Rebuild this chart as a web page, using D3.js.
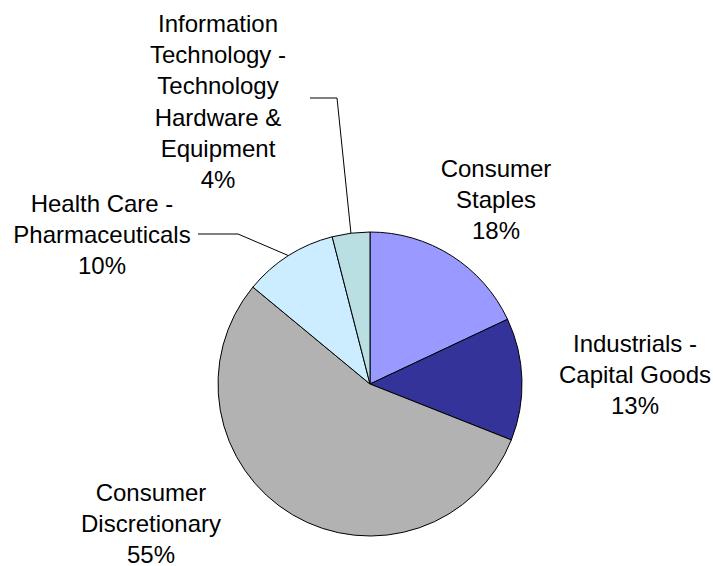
<!DOCTYPE html>
<html>
<head>
<meta charset="utf-8">
<script src="https://cdn.jsdelivr.net/npm/d3@7"></script>
<style>
  html, body { margin: 0; padding: 0; background: #fff; }
  svg { display: block; }
  text { font-family: "Liberation Sans", Arial, sans-serif; font-size: 24px; fill: #000; }
</style>
</head>
<body>
<svg id="chart" width="713" height="566"></svg>
<script>
// Sector weights, in drawing order (clockwise from 12 o'clock)
const sectors = [
  "Consumer Staples",
  "Industrials - Capital Goods",
  "Consumer Discretionary",
  "Health Care - Pharmaceuticals",
  "Information Technology - Technology Hardware & Equipment"
];
const weights = [18, 13, 55, 10, 4];
const labelLines = [
  ["Consumer", "Staples"],
  ["Industrials -", "Capital Goods"],
  ["Consumer", "Discretionary"],
  ["Health Care -", "Pharmaceuticals"],
  ["Information", "Technology -", "Technology", "Hardware &", "Equipment"]
];
const fills = ["#9999FF", "#333399", "#B2B2B2", "#CCECFF", "#BADFE3"];

// Label placement: centre x and first baseline y, plus optional leader bend
const labelLayout = [
  { x: 496, y: 177 },
  { x: 635, y: 352 },
  { x: 151, y: 501 },
  { x: 102, y: 212, leader: { from: [198, 234], bend: [238, 234] } },
  { x: 218, y: 32,  leader: { from: [310, 98],  bend: [337, 98] } }
];
const lineStep = 31.2;

const cx = 370, cy = 384, radius = 152;
const svg = d3.select("#chart");
const g = svg.append("g").attr("transform", `translate(${cx},${cy})`);

const pie = d3.pie().sort(null).value(d => d.value);
const arcs = pie(sectors.map((s, i) => ({ name: s, value: weights[i], idx: i })));
const arc = d3.arc().innerRadius(0).outerRadius(radius);

g.selectAll("path.slice")
  .data(arcs)
  .join("path")
  .attr("class", "slice")
  .attr("d", arc)
  .attr("fill", d => fills[d.data.idx])
  .attr("stroke", "#000")
  .attr("stroke-width", 1);

// Leader lines for the small slices
arcs.forEach(a => {
  const L = labelLayout[a.data.idx];
  if (!L.leader) return;
  const mid = (a.startAngle + a.endAngle) / 2;
  const ex = cx + radius * Math.sin(mid);
  const ey = cy - radius * Math.cos(mid);
  svg.append("polyline")
    .attr("points", [L.leader.from, L.leader.bend, [ex, ey]].map(p => p.join(",")).join(" "))
    .attr("fill", "none")
    .attr("stroke", "#000")
    .attr("stroke-width", 1);
});

// Category labels with percentage
arcs.forEach(a => {
  const i = a.data.idx;
  const L = labelLayout[i];
  const lines = labelLines[i].concat([d3.format(".0f")(a.data.value) + "%"]);
  const t = svg.append("text")
    .attr("text-anchor", "middle")
    .attr("x", L.x)
    .attr("y", L.y);
  lines.forEach((ln, k) => {
    t.append("tspan")
      .attr("x", L.x)
      .attr("y", L.y + k * lineStep)
      .text(ln);
  });
});
</script>
</body>
</html>
